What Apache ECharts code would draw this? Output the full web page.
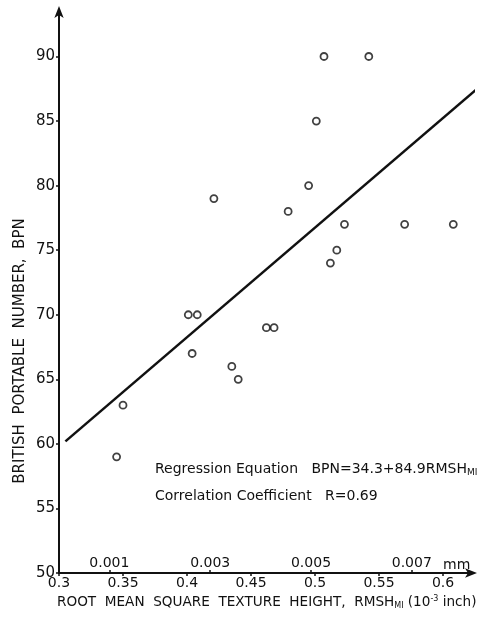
<!DOCTYPE html>
<html>
<head>
<meta charset="utf-8">
<script src="https://cdn.jsdelivr.net/npm/echarts@6/dist/echarts.min.js"></script>
<style>
  html, body { margin: 0; padding: 0; background: #ffffff; }
  #chart { width: 485px; height: 617px; }
</style>
</head>
<body>
<div id="chart"></div>
<script>
// Measured texture height (10^-3 inch) and British Portable Number per site
const rmsh = [0.507, 0.542, 0.501, 0.495, 0.479, 0.523, 0.570, 0.608, 0.517, 0.512,
              0.421, 0.401, 0.408, 0.404, 0.435, 0.440, 0.350, 0.345, 0.462, 0.468];
const bpn  = [90, 90, 85, 80, 78, 77, 77, 77, 75, 74,
              79, 70, 70, 67, 66, 65, 63, 59, 69, 69];

// Regression line BPN = a + b * RMSH over the plotted span
const intercept = 34.3;
const slope = 84.9;
const fitSpan = [0.305, 0.627];

// Primary axis range and ticks (10^-3 inch)
const xMin = 0.3, xMax = 0.6234, xStep = 0.05;
const yMin = 50, yMax = 93.6, yStep = 5;

// Secondary millimetre scale, labelled at odd thousandths
const inchToMm = 0.0254;
const mmLabels = [0.001, 0.003, 0.005, 0.007];

const FONT = 'DejaVu Sans';
const INK = '#111111';

const points = rmsh.map((x, i) => [x, bpn[i]]);
const fitLine = fitSpan.map(x => [x, intercept + slope * x]);

const chart = echarts.init(document.getElementById('chart'), null, { renderer: 'canvas' });

chart.setOption({
  backgroundColor: '#ffffff',
  animation: false,
  grid: { left: 59, right: 12, top: 10, bottom: 44, containLabel: false },
  xAxis: [
    {
      type: 'value',
      min: xMin, max: xMax, interval: xStep,
      position: 'bottom',
      splitLine: { show: false },
      axisLine: { lineStyle: { color: INK, width: 2 }, symbol: ['none', 'arrow'], symbolSize: [7, 12], symbolOffset: [0, 4] },
      axisTick: { show: true, length: 3, lineStyle: { color: INK, width: 1.5 } },
      axisLabel: { color: INK, fontFamily: FONT, fontSize: 14, margin: 3, showMaxLabel: false }
    },
    {
      type: 'value',
      min: 0, max: (xMax - xMin) * inchToMm,
      position: 'bottom',
      splitLine: { show: false },
      axisLine: { show: false },
      axisTick: { show: true, inside: true, length: 3, customValues: mmLabels,
                  lineStyle: { color: INK, width: 1.5 } },
      axisLabel: {
        inside: true, margin: 3, color: INK, fontFamily: FONT, fontSize: 14,
        customValues: mmLabels,
        formatter: v => Number(v).toFixed(3)
      }
    }
  ],
  yAxis: {
    type: 'value',
    min: yMin, max: yMax, interval: yStep,
    splitLine: { show: false },
    axisLine: { lineStyle: { color: INK, width: 2 }, symbol: ['none', 'arrow'], symbolSize: [7, 12], symbolOffset: [0, 4] },
    axisTick: { show: true, length: 3, lineStyle: { color: INK, width: 1.5 } },
    axisLabel: { color: INK, fontFamily: FONT, fontSize: 15, margin: 4, showMaxLabel: false }
  },
  series: [
    {
      type: 'line',
      data: fitLine,
      showSymbol: false,
      clip: false,
      lineStyle: { color: INK, width: 2.5 },
      silent: true
    },
    {
      type: 'scatter',
      data: points,
      symbol: 'circle',
      symbolSize: 7,
      itemStyle: { color: '#ffffff', borderColor: INK, borderWidth: 1.8 }
    }
  ],
  graphic: [
    {
      type: 'text', left: 155, top: 462,
      style: {
        text: 'Regression Equation   BPN=34.3+84.9RMSH{sub|MI}',
        font: '14px ' + FONT, fill: INK,
        rich: { sub: { fontSize: 9, fontFamily: FONT, fill: INK, padding: [7, 0, 0, 0] } }
      }
    },
    {
      type: 'text', left: 155, top: 489,
      style: { text: 'Correlation Coefficient   R=0.69', font: '14px ' + FONT, fill: INK }
    },
    {
      type: 'text', left: 443, top: 558,
      style: { text: 'mm', font: '14px ' + FONT, fill: INK }
    },
    {
      type: 'text', left: 57, top: 595,
      style: {
        text: 'ROOT  MEAN  SQUARE  TEXTURE  HEIGHT,  RMSH{sub|MI} (10{sup|-3} inch)',
        font: '13.6px ' + FONT, fill: INK,
        rich: {
          sub: { fontSize: 8, fontFamily: FONT, fill: INK, padding: [7, 0, 0, 0] },
          sup: { fontSize: 8, fontFamily: FONT, fill: INK, padding: [0, 0, 7, 0] }
        }
      }
    },
    {
      type: 'text', x: 20, y: 351, rotation: Math.PI / 2,
      style: {
        text: 'BRITISH  PORTABLE  NUMBER,  BPN',
        font: '15px ' + FONT, fill: INK, align: 'center', verticalAlign: 'middle'
      }
    }
  ]
});
</script>
</body>
</html>
